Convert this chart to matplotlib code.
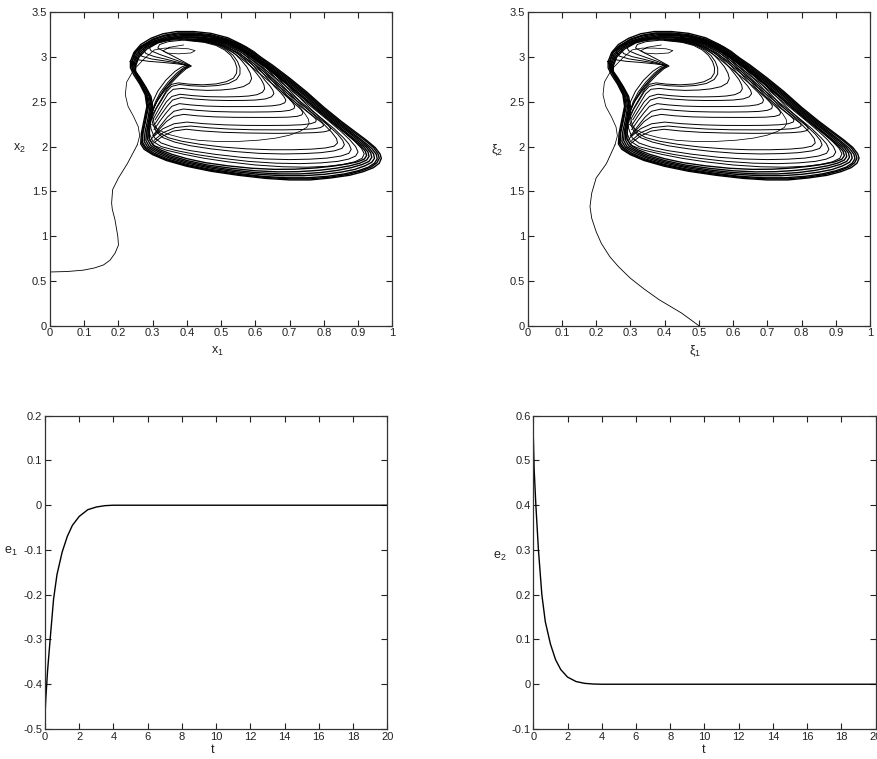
import matplotlib
matplotlib.use("Agg")
import matplotlib.pyplot as plt
from matplotlib.ticker import FixedLocator, FixedFormatter

plt.rcParams['font.family'] = ['Liberation Sans Narrow', 'Liberation Sans', 'DejaVu Sans']
plt.rcParams['mathtext.default'] = 'regular'

# ---------------- data ----------------
phase_x_ticks = [0, 0.1, 0.2, 0.3, 0.4, 0.5, 0.6, 0.7, 0.8, 0.9, 1]
phase_x_labels = ['0', '0.1', '0.2', '0.3', '0.4', '0.5', '0.6', '0.7', '0.8', '0.9', '1']
phase_y_ticks = [0, 0.5, 1, 1.5, 2, 2.5, 3, 3.5]
phase_y_labels = ['0', '0.5', '1', '1.5', '2', '2.5', '3', '3.5']
t_ticks = [0, 2, 4, 6, 8, 10, 12, 14, 16, 18, 20]
t_labels = ['0', '2', '4', '6', '8', '10', '12', '14', '16', '18', '20']
e1_ticks = [-0.5, -0.4, -0.3, -0.2, -0.1, 0, 0.1, 0.2]
e1_labels = ['-0.5', '-0.4', '-0.3', '-0.2', '-0.1', '0', '0.1', '0.2']
e2_ticks = [-0.1, 0, 0.1, 0.2, 0.3, 0.4, 0.5, 0.6]
e2_labels = ['-0.1', '0', '0.1', '0.2', '0.3', '0.4', '0.5', '0.6']

# outer thick band of the attractor (closed loops)
outer_band_loops = [
    [(0.235,2.95),(0.245,3.05),(0.265,3.14),(0.295,3.21),(0.33,3.26),(0.37,3.285),(0.42,3.285),(0.47,3.265),(0.52,3.215),(0.56,3.14),(0.60,3.04),(0.65,2.91),(0.70,2.765),(0.75,2.61),(0.80,2.44),(0.85,2.285),(0.89,2.17),(0.925,2.07),(0.95,1.99),(0.964,1.92),(0.968,1.87),(0.962,1.815),(0.945,1.765),(0.915,1.72),(0.875,1.68),(0.82,1.65),(0.76,1.628),(0.70,1.628),(0.63,1.645),(0.55,1.68),(0.47,1.725),(0.40,1.78),(0.34,1.845),(0.30,1.91),(0.275,1.97),(0.265,2.03),(0.267,2.15),(0.275,2.3),(0.283,2.45),(0.278,2.58),(0.262,2.7),(0.245,2.8),(0.235,2.88),(0.235,2.95)],
    [(0.24,2.95),(0.25,3.05),(0.27,3.13),(0.30,3.2),(0.335,3.245),(0.375,3.27),(0.42,3.27),(0.47,3.25),(0.52,3.2),(0.56,3.125),(0.60,3.025),(0.65,2.895),(0.70,2.75),(0.75,2.595),(0.80,2.425),(0.85,2.27),(0.89,2.155),(0.92,2.07),(0.945,1.99),(0.958,1.92),(0.962,1.87),(0.955,1.82),(0.94,1.775),(0.91,1.73),(0.87,1.69),(0.82,1.66),(0.76,1.64),(0.70,1.64),(0.63,1.655),(0.55,1.69),(0.47,1.735),(0.40,1.79),(0.34,1.855),(0.30,1.92),(0.278,1.98),(0.268,2.04),(0.27,2.15),(0.278,2.3),(0.285,2.45),(0.28,2.58),(0.265,2.7),(0.25,2.8),(0.24,2.88),(0.24,2.95)],
    [(0.238,2.93),(0.247,3.04),(0.268,3.12),(0.3,3.19),(0.335,3.235),(0.375,3.26),(0.42,3.26),(0.47,3.24),(0.52,3.19),(0.56,3.11),(0.60,3.01),(0.65,2.88),(0.70,2.735),(0.75,2.58),(0.80,2.41),(0.85,2.255),(0.885,2.15),(0.915,2.06),(0.94,1.98),(0.953,1.915),(0.956,1.865),(0.948,1.815),(0.93,1.77),(0.9,1.73),(0.86,1.695),(0.81,1.668),(0.75,1.652),(0.69,1.652),(0.62,1.668),(0.55,1.70),(0.47,1.745),(0.40,1.80),(0.345,1.86),(0.305,1.925),(0.28,1.99),(0.27,2.05),(0.272,2.16),(0.28,2.3),(0.288,2.45),(0.283,2.57),(0.268,2.69),(0.252,2.79),(0.24,2.87),(0.238,2.93)],
    [(0.242,2.92),(0.252,3.03),(0.272,3.115),(0.305,3.18),(0.34,3.225),(0.38,3.25),(0.425,3.25),(0.47,3.23),(0.515,3.185),(0.555,3.11),(0.595,3.01),(0.645,2.88),(0.695,2.735),(0.745,2.58),(0.795,2.41),(0.845,2.255),(0.88,2.15),(0.91,2.06),(0.932,1.985),(0.945,1.92),(0.948,1.87),(0.94,1.825),(0.92,1.785),(0.89,1.745),(0.85,1.715),(0.80,1.69),(0.74,1.675),(0.68,1.675),(0.61,1.69),(0.54,1.72),(0.47,1.76),(0.40,1.815),(0.35,1.87),(0.31,1.935),(0.285,1.995),(0.275,2.06),(0.278,2.17),(0.286,2.31),(0.292,2.45),(0.286,2.56),(0.27,2.68),(0.255,2.78),(0.242,2.86),(0.242,2.92)],
    [(0.245,2.92),(0.255,3.02),(0.276,3.11),(0.31,3.175),(0.345,3.215),(0.385,3.24),(0.43,3.24),(0.475,3.22),(0.515,3.175),(0.555,3.1),(0.595,3.0),(0.64,2.88),(0.69,2.735),(0.74,2.58),(0.79,2.41),(0.84,2.255),(0.875,2.15),(0.903,2.06),(0.925,1.99),(0.937,1.93),(0.94,1.88),(0.932,1.835),(0.912,1.80),(0.88,1.765),(0.84,1.735),(0.79,1.71),(0.73,1.695),(0.67,1.695),(0.60,1.71),(0.53,1.74),(0.46,1.78),(0.40,1.83),(0.35,1.885),(0.315,1.945),(0.29,2.0),(0.28,2.07),(0.283,2.18),(0.29,2.32),(0.295,2.45),(0.29,2.56),(0.275,2.67),(0.258,2.78),(0.245,2.86),(0.245,2.92)],
    [(0.248,2.91),(0.258,3.01),(0.28,3.1),(0.313,3.168),(0.35,3.205),(0.39,3.225),(0.435,3.225),(0.478,3.205),(0.518,3.16),(0.555,3.09),(0.593,2.995),(0.638,2.875),(0.686,2.73),(0.735,2.575),(0.785,2.41),(0.833,2.26),(0.868,2.15),(0.895,2.065),(0.917,1.995),(0.929,1.94),(0.932,1.89),(0.925,1.85),(0.905,1.815),(0.875,1.785),(0.835,1.758),(0.785,1.735),(0.725,1.72),(0.665,1.718),(0.6,1.73),(0.53,1.758),(0.46,1.795),(0.40,1.845),(0.352,1.9),(0.318,1.955),(0.295,2.01),(0.285,2.08),(0.287,2.19),(0.293,2.33),(0.297,2.45),(0.292,2.56),(0.278,2.67),(0.26,2.77),(0.248,2.85),(0.248,2.91)],
    [(0.25,2.9),(0.26,3.0),(0.283,3.09),(0.316,3.16),(0.353,3.198),(0.393,3.215),(0.438,3.215),(0.48,3.195),(0.52,3.15),(0.556,3.08),(0.593,2.99),(0.636,2.87),(0.683,2.725),(0.732,2.57),(0.78,2.41),(0.826,2.265),(0.86,2.16),(0.887,2.075),(0.908,2.005),(0.921,1.95),(0.925,1.9),(0.918,1.86),(0.898,1.83),(0.866,1.805),(0.826,1.782),(0.776,1.762),(0.716,1.748),(0.656,1.746),(0.59,1.758),(0.52,1.785),(0.455,1.82),(0.40,1.865),(0.355,1.915),(0.322,1.965),(0.3,2.02),(0.29,2.09),(0.291,2.2),(0.296,2.34),(0.3,2.45),(0.295,2.56),(0.28,2.665),(0.263,2.77),(0.25,2.84),(0.25,2.9)],
]

# loops that pass through the cusp near (0.4, 2.91) and fan back to the upper left
cusp_loops = [
    [(0.285,2.2),(0.292,2.35),(0.3,2.5),(0.315,2.62),(0.338,2.74),(0.365,2.84),(0.385,2.89),(0.40,2.91),(0.37,2.925),(0.33,2.94),(0.29,2.952),(0.26,2.968),(0.245,3.0),(0.248,3.06),(0.265,3.12),(0.295,3.175),(0.335,3.21),(0.38,3.228),(0.43,3.225),(0.48,3.195),(0.525,3.14),(0.56,3.07),(0.595,2.98),(0.635,2.87),(0.682,2.725),(0.73,2.57),(0.778,2.415),(0.822,2.275),(0.86,2.16),(0.89,2.06),(0.91,1.98),(0.918,1.92),(0.912,1.87),(0.89,1.83),(0.855,1.80),(0.81,1.78),(0.75,1.77),(0.68,1.775),(0.60,1.795),(0.52,1.83),(0.45,1.87),(0.39,1.915),(0.34,1.96),(0.305,2.01),(0.29,2.08),(0.285,2.2)],
    [(0.29,2.25),(0.298,2.38),(0.308,2.5),(0.323,2.61),(0.345,2.72),(0.37,2.82),(0.39,2.88),(0.405,2.905),(0.37,2.935),(0.33,2.96),(0.295,2.98),(0.268,3.01),(0.258,3.06),(0.27,3.12),(0.3,3.17),(0.34,3.2),(0.385,3.215),(0.435,3.21),(0.48,3.18),(0.52,3.13),(0.555,3.06),(0.59,2.97),(0.63,2.855),(0.675,2.72),(0.72,2.58),(0.765,2.44),(0.81,2.3),(0.85,2.17),(0.875,2.08),(0.893,2.0),(0.9,1.94),(0.893,1.895),(0.872,1.86),(0.84,1.835),(0.79,1.818),(0.73,1.81),(0.66,1.815),(0.58,1.835),(0.50,1.87),(0.43,1.91),(0.37,1.955),(0.325,2.0),(0.3,2.06),(0.29,2.15),(0.29,2.25)],
    [(0.292,2.3),(0.302,2.42),(0.315,2.53),(0.333,2.64),(0.355,2.74),(0.378,2.83),(0.395,2.88),(0.405,2.9),(0.375,2.94),(0.34,2.975),(0.305,3.005),(0.28,3.04),(0.272,3.09),(0.29,3.14),(0.32,3.178),(0.36,3.2),(0.40,3.205),(0.445,3.19),(0.485,3.16),(0.52,3.11),(0.55,3.045),(0.585,2.955),(0.622,2.845),(0.665,2.71),(0.71,2.57),(0.755,2.43),(0.795,2.31),(0.83,2.2),(0.857,2.1),(0.873,2.03),(0.88,1.97),(0.873,1.925),(0.85,1.895),(0.81,1.872),(0.76,1.86),(0.70,1.855),(0.63,1.862),(0.56,1.88),(0.48,1.915),(0.41,1.955),(0.36,1.995),(0.325,2.04),(0.305,2.1),(0.295,2.2),(0.292,2.3)],
    [(0.295,2.35),(0.306,2.46),(0.322,2.57),(0.343,2.68),(0.367,2.78),(0.39,2.86),(0.41,2.905),(0.38,2.95),(0.35,2.99),(0.32,3.03),(0.295,3.07),(0.29,3.11),(0.31,3.155),(0.345,3.185),(0.39,3.198),(0.44,3.19),(0.48,3.16),(0.515,3.11),(0.545,3.045),(0.578,2.955),(0.614,2.845),(0.655,2.715),(0.7,2.575),(0.745,2.44),(0.785,2.32),(0.815,2.23),(0.84,2.14),(0.855,2.07),(0.86,2.02),(0.853,1.98),(0.83,1.952),(0.79,1.932),(0.74,1.922),(0.68,1.918),(0.61,1.925),(0.54,1.945),(0.47,1.975),(0.41,2.01),(0.365,2.05),(0.33,2.1),(0.31,2.17),(0.3,2.26),(0.295,2.35)],
    [(0.3,2.4),(0.312,2.5),(0.33,2.6),(0.352,2.7),(0.377,2.8),(0.398,2.87),(0.413,2.9),(0.385,2.96),(0.36,3.01),(0.335,3.06),(0.315,3.1),(0.32,3.14),(0.345,3.172),(0.385,3.188),(0.43,3.185),(0.47,3.16),(0.505,3.115),(0.535,3.05),(0.565,2.965),(0.6,2.855),(0.64,2.73),(0.685,2.59),(0.728,2.46),(0.765,2.35),(0.8,2.25),(0.823,2.16),(0.837,2.09),(0.84,2.04),(0.83,2.005),(0.805,1.985),(0.765,1.972),(0.71,1.965),(0.645,1.965),(0.575,1.975),(0.505,1.995),(0.44,2.025),(0.385,2.06),(0.345,2.1),(0.318,2.16),(0.305,2.25),(0.3,2.33),(0.3,2.4)],
]

# nested inner loops around the hole
inner_loops = [
    [(0.40,3.185),(0.45,3.165),(0.485,3.13),(0.51,3.08),(0.528,3.02),(0.54,2.95),(0.546,2.88),(0.545,2.82),(0.536,2.765),(0.515,2.725),(0.485,2.7),(0.445,2.69),(0.405,2.698),(0.375,2.712),(0.355,2.695),(0.342,2.64),(0.33,2.56),(0.316,2.47),(0.3,2.36)],
    [(0.40,3.19),(0.455,3.168),(0.49,3.133),(0.515,3.083),(0.535,3.02),(0.548,2.95),(0.555,2.88),(0.555,2.81),(0.545,2.75),(0.522,2.705),(0.49,2.682),(0.45,2.673),(0.41,2.68),(0.378,2.694),(0.355,2.672),(0.34,2.61),(0.326,2.52),(0.31,2.42),(0.296,2.3)],
    [(0.41,3.19),(0.46,3.17),(0.495,3.137),(0.52,3.09),(0.542,3.03),(0.56,2.96),(0.575,2.89),(0.585,2.82),(0.589,2.76),(0.583,2.71),(0.565,2.67),(0.535,2.645),(0.5,2.632),(0.46,2.628),(0.42,2.635),(0.385,2.65),(0.36,2.64),(0.345,2.59),(0.332,2.51),(0.318,2.42),(0.302,2.31)],
    [(0.41,3.195),(0.465,3.173),(0.5,3.14),(0.527,3.095),(0.55,3.035),(0.57,2.965),(0.588,2.89),(0.604,2.815),(0.617,2.75),(0.625,2.69),(0.627,2.645),(0.621,2.608),(0.605,2.58),(0.58,2.565),(0.55,2.558),(0.51,2.555),(0.46,2.558),(0.415,2.57),(0.38,2.585),(0.356,2.56),(0.34,2.5),(0.325,2.41),(0.307,2.3)],
    [(0.42,3.197),(0.47,3.175),(0.505,3.143),(0.533,3.098),(0.556,3.04),(0.577,2.97),(0.596,2.895),(0.613,2.815),(0.628,2.74),(0.642,2.68),(0.651,2.63),(0.654,2.59),(0.647,2.556),(0.63,2.533),(0.6,2.52),(0.565,2.516),(0.52,2.515),(0.47,2.519),(0.42,2.532),(0.383,2.548),(0.358,2.52),(0.342,2.45),(0.325,2.36),(0.306,2.25)],
    [(0.42,3.2),(0.475,3.178),(0.51,3.147),(0.538,3.102),(0.562,3.045),(0.583,2.975),(0.603,2.9),(0.622,2.82),(0.64,2.74),(0.657,2.665),(0.672,2.61),(0.683,2.56),(0.689,2.52),(0.686,2.49),(0.672,2.468),(0.648,2.455),(0.615,2.449),(0.565,2.447),(0.51,2.447),(0.455,2.453),(0.41,2.466),(0.378,2.48),(0.356,2.45),(0.34,2.38),(0.322,2.29),(0.304,2.19)],
    [(0.43,3.2),(0.48,3.18),(0.515,3.15),(0.543,3.105),(0.567,3.048),(0.588,2.98),(0.608,2.905),(0.628,2.825),(0.647,2.745),(0.665,2.665),(0.682,2.59),(0.698,2.535),(0.709,2.49),(0.715,2.455),(0.713,2.425),(0.7,2.405),(0.675,2.393),(0.64,2.388),(0.59,2.386),(0.535,2.387),(0.48,2.392),(0.43,2.405),(0.39,2.42),(0.362,2.395),(0.343,2.33),(0.322,2.23),(0.3,2.12)],
    [(0.43,3.205),(0.485,3.183),(0.52,3.152),(0.548,3.108),(0.572,3.05),(0.593,2.982),(0.613,2.907),(0.633,2.827),(0.653,2.745),(0.672,2.663),(0.69,2.582),(0.707,2.505),(0.722,2.455),(0.733,2.415),(0.739,2.38),(0.736,2.355),(0.722,2.338),(0.695,2.329),(0.655,2.326),(0.6,2.326),(0.54,2.327),(0.48,2.332),(0.43,2.344),(0.39,2.36),(0.362,2.338),(0.34,2.28),(0.316,2.18),(0.295,2.08)],
    [(0.44,3.21),(0.49,3.19),(0.53,3.158),(0.558,3.112),(0.582,3.055),(0.603,2.988),(0.623,2.913),(0.643,2.833),(0.663,2.75),(0.683,2.667),(0.703,2.583),(0.723,2.5),(0.742,2.425),(0.759,2.37),(0.771,2.33),(0.778,2.3),(0.776,2.275),(0.762,2.256),(0.735,2.244),(0.695,2.238),(0.64,2.236),(0.575,2.237),(0.51,2.243),(0.45,2.256),(0.4,2.274),(0.362,2.255),(0.33,2.2),(0.305,2.12)],
    [(0.45,3.21),(0.5,3.19),(0.538,3.158),(0.565,3.113),(0.589,3.057),(0.61,2.99),(0.63,2.915),(0.65,2.835),(0.67,2.752),(0.69,2.668),(0.711,2.583),(0.732,2.498),(0.753,2.415),(0.772,2.35),(0.787,2.3),(0.797,2.26),(0.799,2.232),(0.79,2.212),(0.77,2.199),(0.735,2.191),(0.68,2.187),(0.595,2.188),(0.525,2.196),(0.465,2.21),(0.41,2.23),(0.365,2.212),(0.33,2.155),(0.304,2.07)],
    [(0.45,3.215),(0.505,3.195),(0.545,3.163),(0.572,3.118),(0.596,3.062),(0.617,2.995),(0.637,2.92),(0.657,2.84),(0.677,2.757),(0.698,2.672),(0.72,2.585),(0.742,2.498),(0.764,2.412),(0.785,2.34),(0.802,2.28),(0.814,2.235),(0.82,2.2),(0.816,2.18),(0.8,2.165),(0.772,2.156),(0.73,2.151),(0.66,2.148),(0.575,2.152),(0.505,2.16),(0.445,2.175),(0.398,2.194),(0.36,2.173),(0.328,2.115),(0.303,2.04)],
]

# single thin loop reaching x = 0.757
thin_loop = [(0.44,3.2),(0.49,3.18),(0.525,3.15),(0.553,3.106),(0.577,3.05),(0.598,2.983),(0.618,2.908),(0.638,2.828),(0.658,2.746),(0.678,2.663),(0.697,2.58),(0.716,2.5),(0.733,2.425),(0.746,2.36),(0.755,2.305),(0.757,2.26),(0.75,2.215),(0.73,2.17),(0.7,2.128),(0.66,2.095),(0.61,2.072),(0.55,2.058),(0.49,2.057),(0.435,2.07),(0.385,2.098),(0.345,2.138),(0.315,2.19),(0.297,2.25)]

# thin curl on the left and small ellipse at the top
thin_curl = [(0.255,2.02),(0.262,2.12),(0.258,2.22),(0.245,2.33),(0.228,2.45),(0.22,2.58),(0.224,2.72),(0.245,2.86),(0.275,2.98),(0.305,3.08),(0.335,3.1),(0.37,3.1),(0.405,3.092),(0.424,3.072),(0.412,3.046),(0.375,3.036),(0.342,3.045),(0.33,3.07),(0.35,3.11),(0.39,3.135)]

# transients
transient_x = [(0.0,0.60),(0.05,0.605),(0.097,0.62),(0.13,0.645),(0.156,0.678),(0.175,0.73),(0.19,0.81),(0.2,0.9),(0.198,1.0),(0.19,1.18),(0.182,1.3),(0.18,1.37),(0.183,1.52),(0.2,1.65),(0.226,1.81),(0.255,2.02)]
transient_xi = [(0.5,0.0),(0.45,0.14),(0.384,0.29),(0.34,0.41),(0.3,0.53),(0.265,0.66),(0.24,0.77),(0.215,0.92),(0.2,1.05),(0.187,1.2),(0.182,1.33),(0.187,1.48),(0.2,1.65),(0.23,1.81),(0.255,2.02)]

# synchronisation errors
t_e = [0, 0.05, 0.15, 0.3, 0.5, 0.7, 1.0, 1.3, 1.6, 2.0, 2.5, 3.0, 3.5, 4.0, 20]
e1 = [-0.47, -0.43, -0.37, -0.30, -0.21, -0.155, -0.105, -0.07, -0.045, -0.025, -0.01, -0.004, -0.001, 0.0, 0.0]
e2 = [0.555, 0.48, 0.40, 0.30, 0.20, 0.14, 0.09, 0.055, 0.033, 0.016, 0.006, 0.002, 0.0005, 0.0, 0.0]

# ---------------- figure ----------------
fig = plt.figure(figsize=(8.77, 7.59), dpi=100)
W, H = 877.0, 759.0

def make_axes(x0, x1, y0, y1):
    return fig.add_axes([x0 / W, 1 - y1 / H, (x1 - x0) / W, (y1 - y0) / H])

ax_tl = make_axes(50, 392.3, 12.3, 325.7)
ax_tr = make_axes(527.7, 870, 12.3, 325.7)
ax_bl = make_axes(45, 387.3, 415.7, 729)
ax_br = make_axes(533.3, 875.6, 415.7, 729)

def style(ax, xt, xl, yt, yl, xlim, ylim):
    ax.set_xlim(*xlim)
    ax.set_ylim(*ylim)
    ax.xaxis.set_major_locator(FixedLocator(xt))
    ax.xaxis.set_major_formatter(FixedFormatter(xl))
    ax.yaxis.set_major_locator(FixedLocator(yt))
    ax.yaxis.set_major_formatter(FixedFormatter(yl))
    ax.tick_params(direction='in', top=True, right=True, length=4, width=0.8,
                   labelsize=8, colors='#222222', pad=2)
    for s in ax.spines.values():
        s.set_color('#333333')
        s.set_linewidth(0.9)

def plot_strands(ax, strands, lw):
    for strand in strands:
        xs = [p[0] for p in strand]
        ys = [p[1] for p in strand]
        ax.plot(xs, ys, color='black', lw=lw, solid_joinstyle='round')

for ax, trans in ((ax_tl, transient_x), (ax_tr, transient_xi)):
    plot_strands(ax, outer_band_loops, 1.0)
    plot_strands(ax, cusp_loops, 0.7)
    plot_strands(ax, inner_loops, 0.7)
    plot_strands(ax, [thin_loop], 0.55)
    plot_strands(ax, [thin_curl], 0.55)
    plot_strands(ax, [trans], 0.6)
    style(ax, phase_x_ticks, phase_x_labels, phase_y_ticks, phase_y_labels, (0, 1), (0, 3.5))

ax_bl.plot(t_e, e1, color='black', lw=1.0)
style(ax_bl, t_ticks, t_labels, e1_ticks, e1_labels, (0, 20), (-0.5, 0.2))
ax_br.plot(t_e, e2, color='black', lw=1.0)
style(ax_br, t_ticks, t_labels, e2_ticks, e2_labels, (0, 20), (-0.1, 0.6))

lab = dict(fontsize=9, color='#222222')
ax_tl.set_xlabel('x$_1$', **lab)
ax_tl.xaxis.set_label_coords(0.49, -0.062)
ax_tl.set_ylabel('x$_2$', rotation=0, **lab)
ax_tl.yaxis.set_label_coords(-0.088, 0.545)

ax_tr.set_xlabel('ξ$_1$', **lab)
ax_tr.xaxis.set_label_coords(0.489, -0.058)
ax_tr.set_ylabel('ξ$_2$', rotation=0, **lab)
ax_tr.yaxis.set_label_coords(-0.09, 0.535)

ax_bl.set_xlabel('t', **lab)
ax_bl.xaxis.set_label_coords(0.49, -0.048)
ax_bl.set_ylabel('e$_1$', rotation=0, **lab)
ax_bl.yaxis.set_label_coords(-0.10, 0.545)

ax_br.set_xlabel('t', **lab)
ax_br.xaxis.set_label_coords(0.497, -0.048)
ax_br.set_ylabel('e$_2$', rotation=0, **lab)
ax_br.yaxis.set_label_coords(-0.097, 0.53)

fig.savefig('out.png', dpi=100)
